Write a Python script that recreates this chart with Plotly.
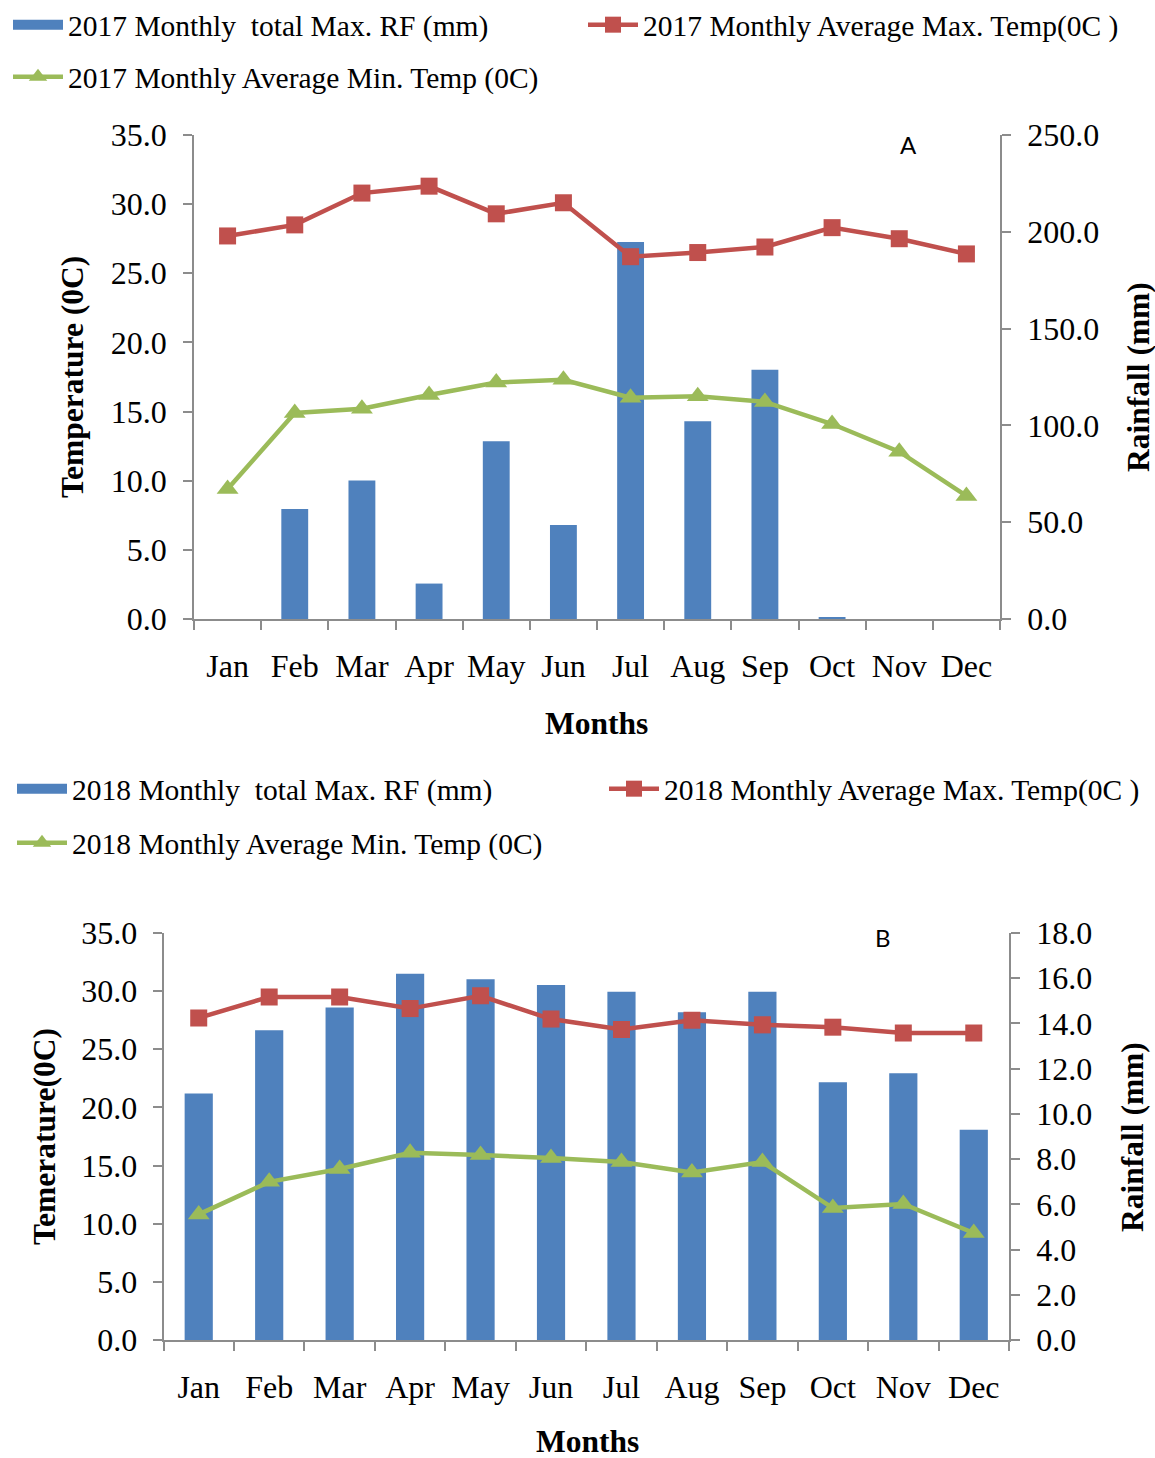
import plotly.graph_objects as go

months = ["Jan", "Feb", "Mar", "Apr", "May", "Jun", "Jul", "Aug", "Sep", "Oct", "Nov", "Dec"]

# 2017 (panel A)
rf_2017 = [0.0, 56.8, 71.6, 18.3, 91.8, 48.6, 194.7, 102.1, 128.8, 0.8, 0.0, 0.0]
tmax_2017 = [27.7, 28.5, 30.8, 31.3, 29.3, 30.1, 26.2, 26.5, 26.9, 28.3, 27.5, 26.4]
tmin_2017 = [9.4, 14.9, 15.2, 16.2, 17.1, 17.3, 16.0, 16.1, 15.7, 14.1, 12.1, 8.9]

# 2018 (panel B)
rf_2018 = [10.9, 13.7, 14.7, 16.2, 15.95, 15.7, 15.4, 14.5, 15.4, 11.4, 11.8, 9.3]
tmax_2018 = [27.7, 29.5, 29.5, 28.5, 29.6, 27.6, 26.7, 27.5, 27.1, 26.9, 26.4, 26.4]
tmin_2018 = [10.8, 13.6, 14.7, 16.1, 15.9, 15.65, 15.3, 14.4, 15.3, 11.35, 11.7, 9.2]

temp_ticks = [0, 5, 10, 15, 20, 25, 30, 35]
rf_ticks_2017 = [0, 50, 100, 150, 200, 250]
rf_ticks_2018 = [0, 2, 4, 6, 8, 10, 12, 14, 16, 18]

W, H = 1155, 1458
BLUE = "#4F81BD"
RED = "#C0504D"
GREEN = "#9BBB59"
AX = "#8C8C8C"
SERIF = "Liberation Serif, Times New Roman, serif"
NB = "\u00a0"


def px(x):
    return x / W


def py(y):
    return 1 - y / H


fig = go.Figure()

# Panel A
fig.add_trace(go.Bar(x=months, y=rf_2017, name="2017 Monthly " + NB + "total Max. RF (mm)",
                     marker=dict(color=BLUE, line=dict(width=0)), showlegend=False,
                     xaxis="x", yaxis="y"))
# legend swatch (wide rectangle like the original) for the rainfall bars
fig.add_trace(go.Scatter(x=[None], y=[None], name="2017 Monthly " + NB + "total Max. RF (mm)",
                         mode="lines", line=dict(color=BLUE, width=14),
                         xaxis="x", yaxis="y", legend="legend"))
fig.add_trace(go.Scatter(x=months, y=tmax_2017, name="2017 Monthly Average Max. Temp(0C )",
                         mode="lines+markers", line=dict(color=RED, width=4.5),
                         marker=dict(symbol="square", size=17, color=RED),
                         xaxis="x", yaxis="y2", legend="legend2"))
fig.add_trace(go.Scatter(x=months, y=tmin_2017, name="2017 Monthly Average Min. Temp (0C)",
                         mode="lines+markers", line=dict(color=GREEN, width=4.5),
                         marker=dict(symbol="triangle-up", size=19, color=GREEN),
                         xaxis="x", yaxis="y2", legend="legend3"))

# Panel B
fig.add_trace(go.Bar(x=months, y=rf_2018, name="2018 Monthly " + NB + "total Max. RF (mm)",
                     marker=dict(color=BLUE, line=dict(width=0)), showlegend=False,
                     xaxis="x2", yaxis="y3"))
fig.add_trace(go.Scatter(x=[None], y=[None], name="2018 Monthly " + NB + "total Max. RF (mm)",
                         mode="lines", line=dict(color=BLUE, width=14),
                         xaxis="x2", yaxis="y3", legend="legend4"))
fig.add_trace(go.Scatter(x=months, y=tmax_2018, name="2018 Monthly Average Max. Temp(0C )",
                         mode="lines+markers", line=dict(color=RED, width=4.5),
                         marker=dict(symbol="square", size=17, color=RED),
                         xaxis="x2", yaxis="y4", legend="legend5"))
fig.add_trace(go.Scatter(x=months, y=tmin_2018, name="2018 Monthly Average Min. Temp (0C)",
                         mode="lines+markers", line=dict(color=GREEN, width=4.5),
                         marker=dict(symbol="triangle-up", size=19, color=GREEN),
                         xaxis="x2", yaxis="y4", legend="legend6"))

tickfont = dict(family=SERIF, size=32, color="black")

xa = dict(type="category", range=[-0.5, 11.5], showline=True, linecolor=AX, linewidth=1.5,
          ticks="outside", tickson="boundaries", ticklen=9, tickcolor=AX, tickwidth=1.5,
          tickfont=tickfont, tickangle=0, showgrid=False, zeroline=False,
          ticklabelstandoff=18, fixedrange=True, categoryorder="array", categoryarray=months)

ya = dict(showline=True, linecolor=AX, linewidth=1.5, ticks="outside", ticklen=9,
          tickcolor=AX, tickwidth=1.5, tickfont=tickfont, showgrid=False, zeroline=False,
          tickformat=".1f")

legfont = dict(family=SERIF, size=29.5, color="black")


def leg(x, y):
    return dict(x=px(x), y=py(y), xanchor="left", yanchor="middle", font=legfont,
                bgcolor="rgba(0,0,0,0)", borderwidth=0, itemwidth=50,
                orientation="v", tracegroupgap=0)


fig.update_layout(
    width=W, height=H,
    margin=dict(l=0, r=0, t=0, b=0, autoexpand=False),
    paper_bgcolor="white", plot_bgcolor="white",
    bargap=0.6,
    xaxis=dict(xa, domain=[px(194), px(1000)], anchor="y"),
    yaxis=dict(ya, domain=[py(619), py(135)], anchor="x", side="right", range=[0, 250],
               tickvals=rf_ticks_2017, ticklabelstandoff=10),
    yaxis2=dict(ya, anchor="x", overlaying="y", side="left", range=[0, 35],
                tickvals=temp_ticks, ticklabelstandoff=10),
    xaxis2=dict(xa, domain=[px(163.5), px(1009)], anchor="y3"),
    yaxis3=dict(ya, domain=[py(1340), py(933)], anchor="x2", side="right", range=[0, 18],
                tickvals=rf_ticks_2018, ticklabelstandoff=10),
    yaxis4=dict(ya, anchor="x2", overlaying="y3", side="left", range=[0, 35],
                tickvals=temp_ticks, ticklabelstandoff=9),
    legend=leg(8, 25),
    legend2=leg(583, 25),
    legend3=leg(8, 77),
    legend4=leg(12, 789),
    legend5=leg(604, 789),
    legend6=leg(12, 843),
    showlegend=True,
)

titlefont = dict(family=SERIF, size=31.5, color="black")
anns = [
    dict(text="<b>Temperature (0C)</b>", x=px(72), y=py(377), textangle=-90),
    dict(text="<b>Rainfall (mm)</b>", x=px(1138), y=py(377), textangle=-90),
    dict(text="<b>Months</b>", x=px(597), y=py(723), textangle=0),
    dict(text="<b>Temerature(0C)</b>", x=px(44), y=py(1137), textangle=-90),
    dict(text="<b>Rainfall (mm)</b>", x=px(1132), y=py(1137), textangle=-90),
    dict(text="<b>Months</b>", x=px(587), y=py(1441), textangle=0),
]
for a in anns:
    fig.add_annotation(xref="paper", yref="paper", showarrow=False, font=titlefont,
                       xanchor="center", yanchor="middle", **a)

labfont = dict(family="Lato, Open Sans, sans-serif", size=24, color="black")
fig.add_annotation(text="A", xref="paper", yref="paper", x=px(908), y=py(145),
                   showarrow=False, font=labfont, xanchor="center", yanchor="middle")
fig.add_annotation(text="B", xref="paper", yref="paper", x=px(883), y=py(937),
                   showarrow=False, font=labfont, xanchor="center", yanchor="middle")

fig.write_html("out.html")
